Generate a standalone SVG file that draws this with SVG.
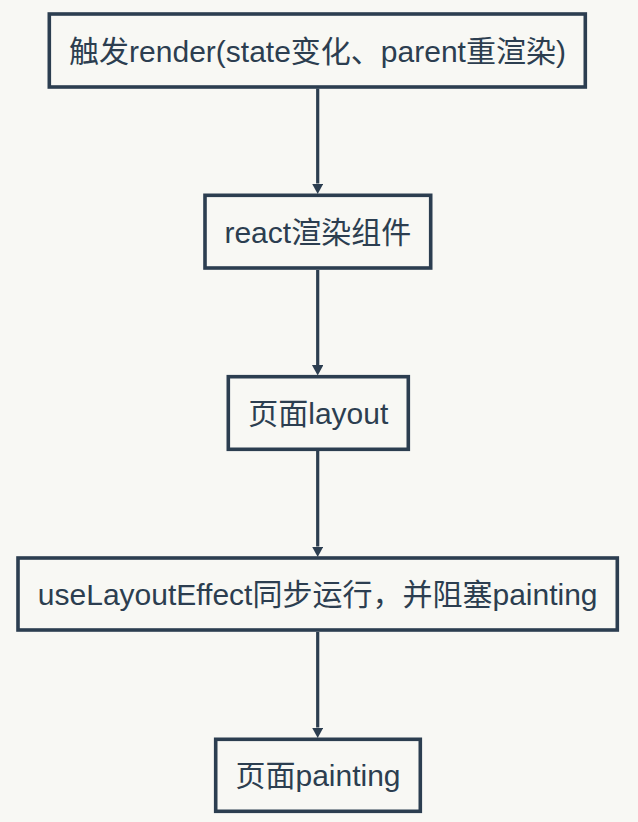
<svg xmlns="http://www.w3.org/2000/svg" width="638" height="822" viewBox="0 0 638 822">
  <defs>
    <style>
      .box { fill: #f8f8f4; stroke: #2c3e50; stroke-width: 3.6; }
      .label { font-family: "Liberation Sans", "Noto Sans CJK SC", sans-serif; font-size: 30px; fill: #2c3e50; text-anchor: middle; dominant-baseline: central; }
      .edge { stroke: #2c3e50; stroke-width: 3.2; fill: none; marker-end: url(#arrow); }
    </style>
    <marker id="arrow" markerUnits="userSpaceOnUse" markerWidth="11" markerHeight="12" refX="0" refY="5.75" orient="auto">
      <path d="M0,0 L10.5,5.75 L0,11.5 z" fill="#2c3e50"/>
    </marker>
  </defs>
  <rect width="638" height="822" fill="#f8f8f4"/>
  <g id="connectors">
    <line class="edge" x1="317.7" y1="88.5" x2="317.7" y2="183.5"/>
    <line class="edge" x1="317.7" y1="270" x2="317.7" y2="365"/>
    <line class="edge" x1="317.7" y1="451" x2="317.7" y2="546.5"/>
    <line class="edge" x1="317.7" y1="632" x2="317.7" y2="727.5"/>
  </g>
  <g id="n1">
    <rect class="box" x="49.3" y="14" width="536" height="73"/>
    <text class="label" x="317.5" y="51">触发render(state变化、parent重渲染)</text>
  </g>
  <g id="n2">
    <rect class="box" x="205" y="195.3" width="225.7" height="72.7"/>
    <text class="label" x="317.8" y="232">react渲染组件</text>
  </g>
  <g id="n3">
    <rect class="box" x="228.3" y="376.7" width="180" height="72.6"/>
    <text class="label" x="318.3" y="413.5">页面layout</text>
  </g>
  <g id="n4">
    <rect class="box" x="18" y="558" width="599.3" height="72"/>
    <text class="label" x="317.7" y="594.5">useLayoutEffect同步运行，并阻塞painting</text>
  </g>
  <g id="n5">
    <rect class="box" x="215.7" y="739.3" width="204.6" height="72"/>
    <text class="label" x="318" y="775.5">页面painting</text>
  </g>
</svg>
